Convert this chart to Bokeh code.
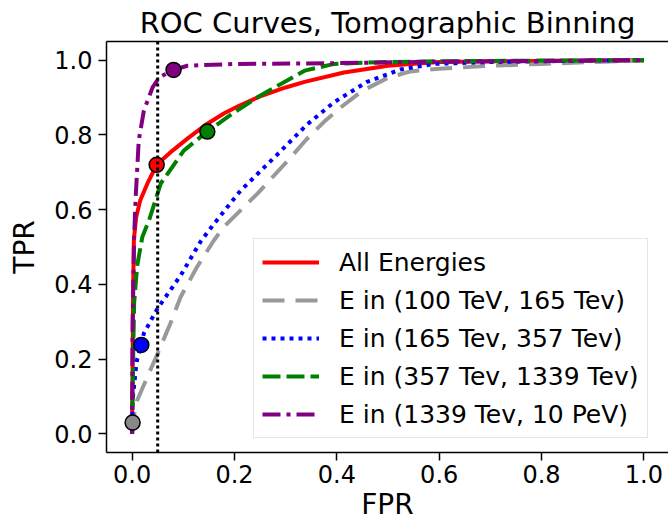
from bokeh.plotting import figure
from bokeh.models import (Span, Legend, LegendItem, FixedTicker, LinearAxis,
                          Range1d, PrintfTickFormatter)
from bokeh.embed import file_html
from bokeh.resources import INLINE

# ---------------- data ----------------
title_text = "ROC Curves, Tomographic Binning"
x_label = "FPR"
y_label = "TPR"
tick_values = [0.0, 0.2, 0.4, 0.6, 0.8, 1.0]
threshold_fpr = 0.05

labels = ["All Energies",
          "E in (100 TeV, 165 Tev)",
          "E in (165 Tev, 357 Tev)",
          "E in (357 Tev, 1339 Tev)",
          "E in (1339 Tev, 10 PeV)"]
colors = ["#ff0000", "#999999", "#0000ff", "#008000", "#800080"]

all_fpr = [0, 0.001, 0.002, 0.0035, 0.008, 0.016, 0.03, 0.048, 0.079, 0.11, 0.147,
           0.18, 0.209, 0.25, 0.30, 0.337, 0.414, 0.5, 0.544, 0.6, 0.7, 0.8, 0.9, 1.0]
all_tpr = [0, 0.2, 0.38, 0.52, 0.58, 0.625, 0.67, 0.72, 0.758, 0.792, 0.83,
           0.858, 0.878, 0.903, 0.927, 0.942, 0.967, 0.985, 0.99, 0.995, 0.997, 0.998, 0.999, 1.0]

e1_fpr = [0, 0.002, 0.005, 0.01, 0.03, 0.05, 0.075, 0.095, 0.127, 0.16, 0.18, 0.245,
          0.31, 0.34, 0.375, 0.407, 0.45, 0.5, 0.544, 0.6, 0.7, 0.8, 0.9, 1.0]
e1_tpr = [0, 0.03, 0.06, 0.09, 0.153, 0.215, 0.296, 0.367, 0.447, 0.518, 0.555, 0.643,
          0.74, 0.787, 0.835, 0.873, 0.918, 0.953, 0.97, 0.977, 0.985, 0.99, 0.995, 1.0]

e2_fpr = [0, 0.001, 0.004, 0.007, 0.01, 0.018, 0.023, 0.037, 0.05, 0.095, 0.134, 0.16,
          0.212, 0.284, 0.342, 0.394, 0.459, 0.524, 0.59, 0.7, 0.8, 0.9, 1.0]
e2_tpr = [0, 0.09, 0.13, 0.17, 0.2, 0.238, 0.269, 0.304, 0.336, 0.424, 0.515, 0.562,
          0.651, 0.748, 0.828, 0.887, 0.942, 0.975, 0.99, 0.995, 0.997, 0.999, 1.0]

e3_fpr = [0, 0.002, 0.004, 0.01, 0.02, 0.033, 0.056, 0.101, 0.147, 0.199, 0.25, 0.337,
          0.395, 0.45, 0.5, 0.6, 0.8, 1.0]
e3_tpr = [0, 0.2, 0.35, 0.45, 0.527, 0.571, 0.67, 0.758, 0.809, 0.86, 0.905, 0.972,
          0.99, 0.993, 0.995, 0.997, 0.999, 1.0]

e4_fpr = [0, 0.001, 0.004, 0.007, 0.013, 0.023, 0.04, 0.053, 0.081, 0.108, 0.2, 0.4,
          0.6, 0.8, 1.0]
e4_tpr = [0, 0.3, 0.527, 0.633, 0.785, 0.865, 0.927, 0.954, 0.974, 0.985, 0.99, 0.992,
          0.996, 0.998, 1.0]

marker_fpr = [0.048, 0.001, 0.018, 0.147, 0.081]
marker_tpr = [0.72, 0.03, 0.238, 0.809, 0.974]
marker_colors = ["#ff0000", "#888888", "#0000ff", "#008000", "#800080"]

curves_fpr = [all_fpr, e1_fpr, e2_fpr, e3_fpr, e4_fpr]
curves_tpr = [all_tpr, e1_tpr, e2_tpr, e3_tpr, e4_tpr]

# ---------------- styling ----------------
FONT = "DejaVu Sans"
dashes = ["solid", "22 11", "4 5", "18 6", "18 6 4 6"]

p = figure(width=668, height=524,
           x_range=Range1d(-0.05, 1.048), y_range=Range1d(-0.05, 1.05),
           output_backend="svg", toolbar_location=None,
           min_border_left=106, min_border_right=0, min_border_top=41,
           min_border_bottom=72)
p.outline_line_color = None
p.background_fill_color = "white"
p.border_fill_color = "white"
p.grid.visible = False

p.title.text = title_text
p.title.text_font = FONT
p.title.text_font_size = "29px"
p.title.text_font_style = "normal"
p.title.align = "center"
p.title.text_color = "black"
p.title.standoff = 4

for ax in (p.xaxis[0], p.yaxis[0]):
    ax.ticker = FixedTicker(ticks=tick_values)
    ax.formatter = PrintfTickFormatter(format="%.1f")
    ax.minor_tick_line_color = None
    ax.major_tick_in = 0
    ax.major_tick_out = 8
    ax.major_tick_line_width = 1.5
    ax.axis_line_width = 1.5
    ax.axis_line_color = "black"
    ax.major_tick_line_color = "black"
    ax.major_label_text_font = FONT
    ax.major_label_text_font_size = "24px"
    ax.major_label_text_color = "black"
    ax.axis_label_text_font = FONT
    ax.axis_label_text_font_size = "28px"
    ax.axis_label_text_font_style = "normal"
    ax.axis_label_text_color = "black"

p.xaxis.axis_label = x_label
p.yaxis.axis_label = y_label
p.xaxis.major_label_standoff = 4
p.xaxis.axis_label_standoff = 2
p.yaxis.major_label_standoff = 6
p.yaxis.axis_label_standoff = 10

top_axis = LinearAxis(ticker=FixedTicker(ticks=[]), major_label_text_font_size="0px",
                      major_tick_out=0, major_tick_in=0, minor_tick_out=0, minor_tick_in=0,
                      axis_line_width=1.5, axis_line_color="black",
                      major_label_standoff=0)
p.add_layout(top_axis, "above")

renderers = []
for fx, ty, c, d in zip(curves_fpr, curves_tpr, colors, dashes):
    r = p.line(fx, ty, line_color=c, line_width=4, line_dash=d, line_cap="butt",
               line_join="round")
    renderers.append(r)

p.add_layout(Span(location=threshold_fpr, dimension="height", line_color="black",
                  line_width=3, line_dash="3 3"))

p.scatter(marker_fpr, marker_tpr, size=15, fill_color=marker_colors, line_color="black",
          line_width=1.5)

legend = Legend(items=[LegendItem(label=l, renderers=[r]) for l, r in zip(labels, renderers)],
                location=(147, 14))
legend.label_text_font = FONT
legend.label_text_font_size = "25px"
legend.label_text_color = "black"
legend.glyph_width = 57
legend.glyph_height = 30
legend.label_height = 30
legend.label_standoff = 20
legend.spacing = 8
legend.padding = 8
legend.margin = 0
legend.border_line_color = "#cccccc"
legend.border_line_width = 1
legend.background_fill_alpha = 0.8
p.add_layout(legend, "center")

open("out.html", "w").write(file_html(p, INLINE))
